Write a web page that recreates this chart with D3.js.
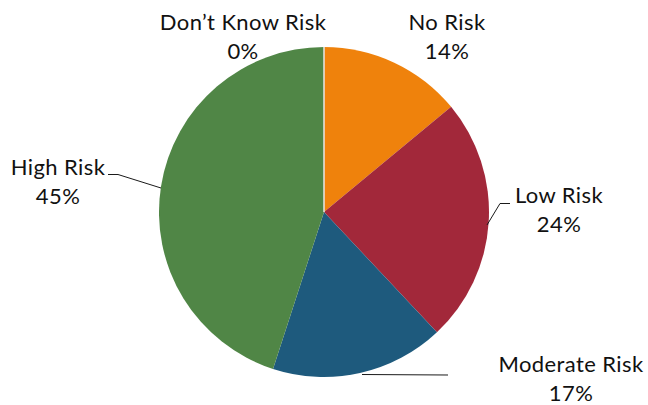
<!DOCTYPE html>
<html>
<head>
<meta charset="utf-8">
<script src="https://cdn.jsdelivr.net/npm/d3@7"></script>
<style>
  html, body { margin: 0; padding: 0; background: #fff; }
  svg text { font-family: Lato, "Open Sans", sans-serif; font-size: 22px; letter-spacing: 0.4px; fill: #111; }
</style>
</head>
<body>
<svg id="chart" width="648" height="405"></svg>
<script>
// Risk categories, in drawing order clockwise from 12 o'clock
const categories = ["No Risk", "Low Risk", "Moderate Risk", "High Risk", "Don\u2019t Know Risk"];
const shares = [14, 24, 17, 45, 0];
const colors = ["#EF820C", "#A2283A", "#1E5A7D", "#508646", "#7F7F7F"];

const svg = d3.select("#chart");
const cx = 324, cy = 212, radius = 165;

const pie = d3.pie().sort(null).value(d => d.value);
const arcs = pie(categories.map((c, i) => ({ name: c, value: shares[i], color: colors[i] })));
const arc = d3.arc().innerRadius(0).outerRadius(radius);

const g = svg.append("g").attr("transform", `translate(${cx},${cy})`);

g.selectAll("path.slice")
  .data(arcs)
  .join("path")
  .attr("class", "slice")
  .attr("d", arc)
  .attr("fill", d => d.data.color)
  .attr("stroke", d => d.data.value === 0 ? "#e6e6e6" : "none")
  .attr("stroke-width", 1);

// Label anchor points (centre of the two-line label, baseline of the first line)
const labelPos = {
  "No Risk": [447, 30],
  "Low Risk": [559, 203],
  "Moderate Risk": [571, 372],
  "High Risk": [58, 175],
  "Don\u2019t Know Risk": [243, 30]
};

// Leader lines for the labels placed away from their slices
const leaders = {
  "Low Risk": [[510, 203.5], [500, 203.5], [487, 225]],
  "Moderate Risk": [[448, 375], [362, 374.5]],
  "High Risk": [[108, 174.5], [118, 174.5], [161, 188]]
};

const line = d3.line();
Object.entries(leaders).forEach(([name, pts]) => {
  svg.append("path")
    .attr("d", line(pts))
    .attr("fill", "none")
    .attr("stroke", "#1a1a1a")
    .attr("stroke-width", 1);
});

const labels = svg.selectAll("g.label")
  .data(arcs)
  .join("g")
  .attr("class", "label")
  .attr("transform", d => `translate(${labelPos[d.data.name][0]},${labelPos[d.data.name][1]})`);

labels.append("text")
  .attr("text-anchor", "middle")
  .text(d => d.data.name);

labels.append("text")
  .attr("text-anchor", "middle")
  .attr("y", 29)
  .text(d => d3.format(".0f")(d.data.value) + "%");
</script>
</body>
</html>
